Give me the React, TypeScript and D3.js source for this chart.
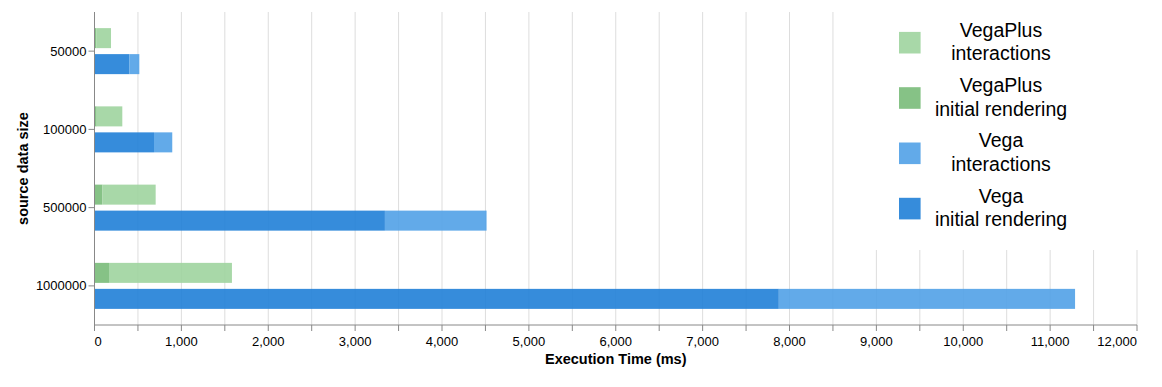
import { useMemo } from "react";
import * as d3 from "d3";

const width = 1162;
const height = 387;

const sizes = ["50000", "100000", "500000", "1000000"];
const renderers = ["VegaPlus", "Vega"];
const vegaPlusInitial = [20, 25, 90, 167];
const vegaPlusInteractions = [170, 295, 614, 1415];
const vegaInitial = [400, 685, 3343, 7877];
const vegaInteractions = [116, 210, 1170, 3410];

const legendLabels = [
  ["VegaPlus", "interactions"],
  ["VegaPlus", "initial rendering"],
  ["Vega", "interactions"],
  ["Vega", "initial rendering"],
];
const legendColors = ["#9ed49e", "#79bb79", "#51a1e7", "#2080d7"];

const FONT = "Liberation Sans, Arial, sans-serif";

export default function App() {
  const x = useMemo(() => d3.scaleLinear().domain([0, 12000]).range([94.5, 1137]), []);
  const y = useMemo(() => d3.scaleBand().domain(sizes).range([12, 325]), []);
  const yOff = useMemo(
    () => d3.scaleBand().domain(renderers).range([0, y.bandwidth()]).paddingInner(0.23).paddingOuter(0.62),
    [y]
  );

  // stacked segments per renderer: initial rendering first, interactions on top
  const segments = useMemo(() => {
    const out: { key: string; r: string; s: string; x0: number; x1: number; c: string }[] = [];
    sizes.forEach((s, i) => {
      out.push({ key: "vpi" + i, r: "VegaPlus", s, x0: 0, x1: vegaPlusInitial[i], c: legendColors[1] });
      out.push({ key: "vpx" + i, r: "VegaPlus", s, x0: vegaPlusInitial[i], x1: vegaPlusInitial[i] + vegaPlusInteractions[i], c: legendColors[0] });
      out.push({ key: "vi" + i, r: "Vega", s, x0: 0, x1: vegaInitial[i], c: legendColors[3] });
      out.push({ key: "vx" + i, r: "Vega", s, x0: vegaInitial[i], x1: vegaInitial[i] + vegaInteractions[i], c: legendColors[2] });
    });
    return out;
  }, []);

  const gridTicks = x.ticks(24);
  const labelTicks = x.ticks(12);
  const fmt = d3.format(",");
  const [y0, y1] = y.range();

  return (
    <svg width={width} height={height} style={{ position: "absolute", left: 0, top: 0 }} fontFamily={FONT}>
      {/* grid */}
      {gridTicks.map((t) => (
        <line key={"g" + t} x1={x(t)} x2={x(t)} y1={y0} y2={y1} stroke="#ddd" strokeWidth={1} />
      ))}

      {/* bars */}
      {segments.map((d) => (
        <rect
          key={d.key}
          x={x(d.x0)}
          y={(y(d.s) as number) + (yOff(d.r) as number)}
          width={x(d.x1) - x(d.x0)}
          height={yOff.bandwidth()}
          fill={d.c}
          fillOpacity={0.9}
        />
      ))}

      {/* x axis */}
      <line x1={x(0)} x2={x(12000)} y1={y1} y2={y1} stroke="#888" />
      {gridTicks.map((t) => (
        <line key={"xt" + t} x1={x(t)} x2={x(t)} y1={y1} y2={y1 + 6} stroke="#888" />
      ))}
      {labelTicks.map((t, i) => (
        <text
          key={"xl" + t}
          x={x(t)}
          y={346}
          fontSize={13}
          fill="#000"
          textAnchor={i === 0 ? "start" : i === labelTicks.length - 1 ? "end" : "middle"}
        >
          {fmt(t)}
        </text>
      ))}
      <text x={(x(0) + x(12000)) / 2} y={364} fontSize={14.5} fontWeight={700} textAnchor="middle" fill="#000">
        Execution Time (ms)
      </text>

      {/* y axis */}
      <line x1={x(0)} x2={x(0)} y1={y0} y2={y1} stroke="#888" />
      {sizes.map((s) => {
        const cy = (y(s) as number) + y.bandwidth() / 2;
        return (
          <g key={"yl" + s}>
            <line x1={x(0) - 6} x2={x(0)} y1={cy} y2={cy} stroke="#888" />
            <text x={x(0) - 8} y={cy} dy="0.35em" fontSize={13} textAnchor="end" fill="#000">
              {s}
            </text>
          </g>
        );
      })}
      <text
        transform={`translate(28, ${(y0 + y1) / 2}) rotate(-90)`}
        fontSize={14.5}
        fontWeight={700}
        textAnchor="middle"
        fill="#000"
      >
        source data size
      </text>

      {/* legend */}
      <rect x={866} y={0} width={width - 866} height={250} fill="#fff" />
      {legendLabels.map((lab, i) => {
        const cy = 42.7 + i * 55.3;
        return (
          <g key={"lg" + i}>
            <rect x={899} y={cy - 10.8} width={21.6} height={21.6} fill={legendColors[i]} fillOpacity={0.9} />
            <text x={1001} y={cy - 6} fontSize={19.5} textAnchor="middle" fill="#000">
              {lab[0]}
            </text>
            <text x={1001} y={cy + 17.5} fontSize={19.5} textAnchor="middle" fill="#000">
              {lab[1]}
            </text>
          </g>
        );
      })}
    </svg>
  );
}
